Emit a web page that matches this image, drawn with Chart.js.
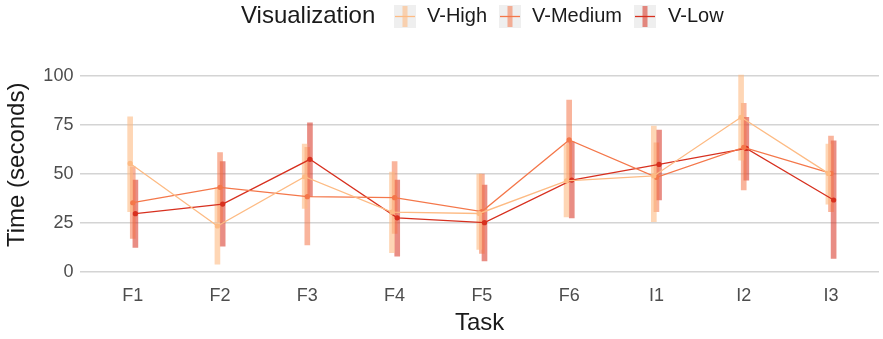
<!DOCTYPE html>
<html>
<head>
<meta charset="utf-8">
<script src="https://cdn.jsdelivr.net/npm/chart.js@4"></script>
<style>
  html, body { margin: 0; padding: 0; background: #fff; overflow: hidden; }
  #wrap { width: 883px; height: 339px; }
</style>
</head>
<body>
<div id="wrap"><canvas id="myChart" width="883" height="339"></canvas></div>
<script>
// data
const tasks = ['F1', 'F2', 'F3', 'F4', 'F5', 'F6', 'I1', 'I2', 'I3'];
const groups = ['V-High', 'V-Medium', 'V-Low'];

const highMean = [55.4, 23.4, 48.6, 30.5, 29.8, 46.5, 49.0, 79.0, 50.3];
const highLow  = [30.7, 3.9, 32.4, 9.7, 11.4, 28.0, 25.6, 57.1, 34.6];
const highHigh = [79.3, 43.0, 65.3, 51.0, 50.0, 65.0, 74.5, 100.6, 65.3];

const medMean = [35.3, 43.2, 38.4, 37.9, 30.8, 67.4, 48.3, 63.6, 50.3];
const medLow  = [17.1, 25.5, 13.7, 19.6, 9.4, 47.0, 30.7, 41.8, 30.7];
const medHigh = [53.7, 60.9, 63.6, 56.3, 50.0, 87.8, 66.0, 86.1, 69.4];

const lowMean = [29.7, 34.6, 57.5, 27.6, 25.1, 46.9, 54.9, 63.1, 36.7];
const lowLow  = [12.5, 13.1, 38.4, 8.0, 5.5, 27.5, 36.7, 46.9, 6.8];
const lowHigh = [46.9, 56.3, 76.2, 46.9, 44.3, 66.5, 72.5, 79.0, 67.0];

const yTicks = [0, 25, 50, 75, 100];

const colors = ['#fdbb84', '#f4774a', '#d7301f'];
const barColors = ['rgba(253,187,132,0.6)', 'rgba(244,119,74,0.55)', 'rgba(215,48,31,0.55)'];
const dodge = [-0.03, 0, 0.03];

const font = '"Liberation Sans", Arial, Helvetica, sans-serif';

const series = [
  [highMean, highLow, highHigh],
  [medMean, medLow, medHigh],
  [lowMean, lowLow, lowHigh]
];

const datasets = [];
series.forEach((s, g) => {
  datasets.push({
    type: 'bar',
    label: groups[g] + ' range',
    data: tasks.map((t, i) => ({ x: i + dodge[g], y: [s[1][i], s[2][i]] })),
    backgroundColor: barColors[g],
    borderWidth: 0,
    barThickness: 5,
    grouped: false,
    order: 2
  });
});
series.forEach((s, g) => {
  datasets.push({
    type: 'line',
    label: groups[g],
    data: tasks.map((t, i) => ({ x: i + dodge[g], y: s[0][i] })),
    borderColor: colors[g],
    backgroundColor: colors[g],
    borderWidth: 1.3,
    pointRadius: 2.6,
    pointBorderWidth: 0,
    pointBackgroundColor: colors[g],
    tension: 0,
    order: 1
  });
});

// legend on one row, title on the left like ggplot
const topLegend = {
  id: 'topLegend',
  afterDraw(chart) {
    const ctx = chart.ctx;
    ctx.save();
    ctx.textBaseline = 'middle';
    ctx.textAlign = 'left';
    ctx.fillStyle = '#1a1a1a';
    ctx.font = '24px ' + font;
    ctx.fillText('Visualization', 241, 16.5);
    const keyX = [394, 499, 634];
    const textX = [427, 532, 668];
    groups.forEach((g, i) => {
      const x = keyX[i], y = 5, w = 22, h = 23;
      ctx.fillStyle = '#efefef';
      ctx.fillRect(x, y, w, h);
      ctx.fillStyle = barColors[i];
      ctx.fillRect(x + w / 2 - 2.5, y + 1, 5, h - 2);
      ctx.strokeStyle = colors[i];
      ctx.lineWidth = 1.3;
      ctx.beginPath();
      ctx.moveTo(x + 1, y + h / 2);
      ctx.lineTo(x + w - 1, y + h / 2);
      ctx.stroke();
      ctx.fillStyle = '#1a1a1a';
      ctx.font = '20px ' + font;
      ctx.fillText(g, textX[i], 16.5);
    });
    ctx.restore();
  }
};

const chart1 = new Chart('myChart', {
  type: 'line',
  data: { datasets: datasets },
  options: {
    responsive: false,
    animation: false,
    devicePixelRatio: 1,
    layout: { padding: { top: 52, right: 0, left: 0, bottom: 0 } },
    plugins: {
      legend: { display: false },
      tooltip: { enabled: false }
    },
    scales: {
      x: {
        type: 'linear',
        offset: false,
        min: -0.6,
        max: 8.55,
        afterBuildTicks: (scale) => { scale.ticks = tasks.map((t, i) => ({ value: i })); },
        afterFit: (scale) => { scale.height = 61.4; },
        grid: { display: false, drawTicks: false },
        border: { display: false },
        ticks: {
          padding: 8,
          autoSkip: false,
          maxRotation: 0,
          color: '#4d4d4d',
          font: { family: font, size: 18 },
          callback: (v) => tasks[v]
        },
        title: {
          display: true,
          text: 'Task',
          color: '#1a1a1a',
          font: { family: font, size: 24 },
          padding: { top: 0, bottom: 1 }
        }
      },
      y: {
        min: -3,
        max: 112.4,
        afterBuildTicks: (scale) => { scale.ticks = yTicks.map(v => ({ value: v })); },
        afterFit: (scale) => { scale.width = 80.4; },
        grid: { color: '#d4d4d4', lineWidth: 1.5, drawTicks: false },
        border: { display: false },
        ticks: {
          padding: 7,
          color: '#4d4d4d',
          font: { family: font, size: 18 }
        },
        title: {
          display: true,
          text: 'Time (seconds)',
          color: '#1a1a1a',
          font: { family: font, size: 24 },
          padding: { top: 3, bottom: 0 }
        }
      }
    }
  },
  plugins: [topLegend]
});
</script>
</body>
</html>
